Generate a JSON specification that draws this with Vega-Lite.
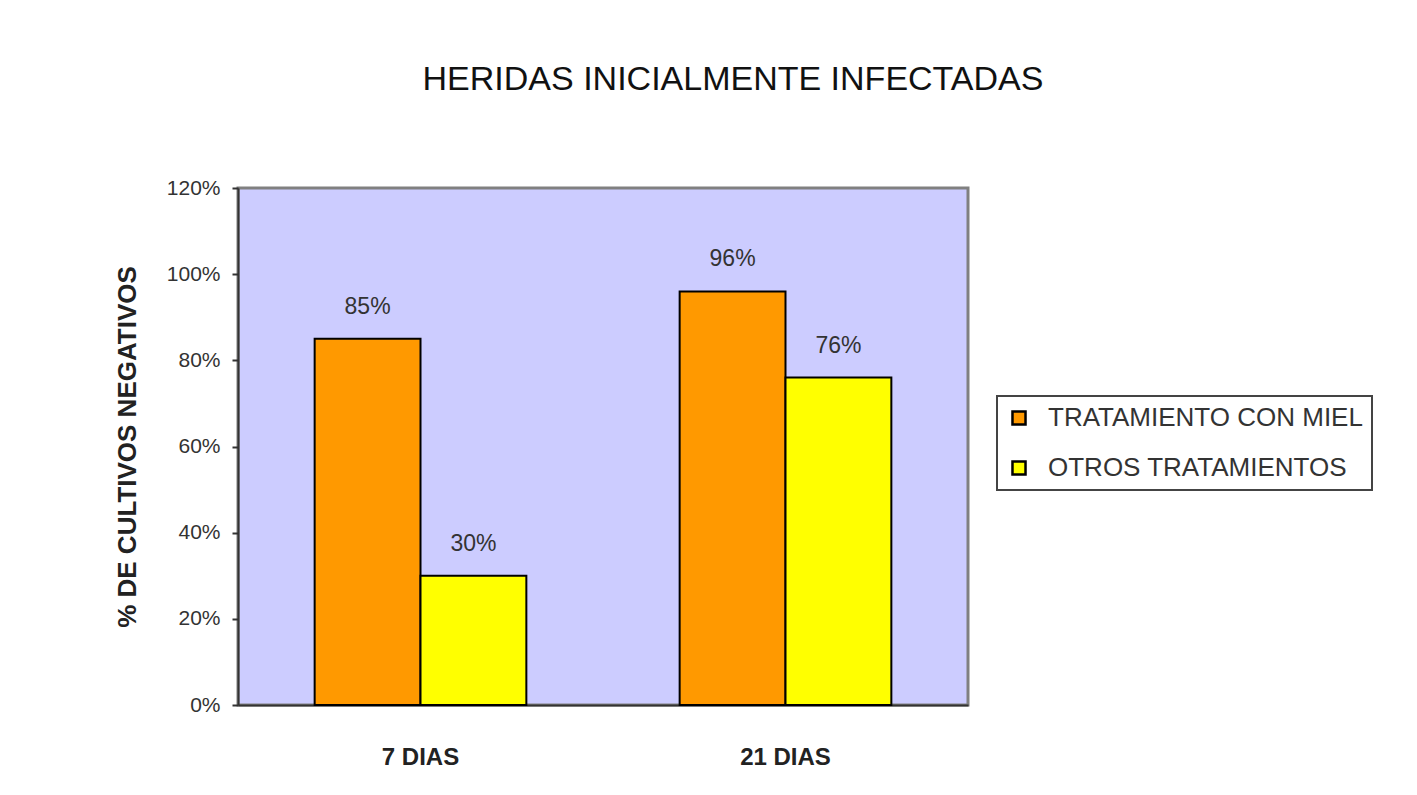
{
  "$schema": "https://vega.github.io/schema/vega-lite/v6.json",
  "width": 730,
  "height": 517,
  "autosize": {"type": "none"},
  "padding": {"left": 238, "top": 188, "right": 449, "bottom": 90},
  "background": "#ffffff",
  "title": {
    "text": "HERIDAS INICIALMENTE INFECTADAS",
    "fontSize": 34,
    "fontWeight": "normal",
    "color": "#111111",
    "font": "Liberation Sans",
    "anchor": "middle",
    "dx": 130,
    "offset": 80
  },
  "data": {
    "values": [
      {"dias": "7 DIAS", "tratamiento": "TRATAMIENTO CON MIEL", "valor": 0.85},
      {"dias": "7 DIAS", "tratamiento": "OTROS TRATAMIENTOS", "valor": 0.30},
      {"dias": "21 DIAS", "tratamiento": "TRATAMIENTO CON MIEL", "valor": 0.96},
      {"dias": "21 DIAS", "tratamiento": "OTROS TRATAMIENTOS", "valor": 0.76}
    ]
  },
  "encoding": {
    "x": {
      "field": "dias",
      "type": "nominal",
      "sort": ["7 DIAS", "21 DIAS"],
      "scale": {"paddingInner": 0.42, "paddingOuter": 0.21},
      "axis": {
        "title": null,
        "labelAngle": 0,
        "labelFontSize": 24,
        "labelFontWeight": "bold",
        "labelColor": "#222222",
        "labelPadding": 40,
        "ticks": false,
        "domainColor": "#333333",
        "domainWidth": 2
      }
    },
    "xOffset": {
      "field": "tratamiento",
      "type": "nominal",
      "sort": ["TRATAMIENTO CON MIEL", "OTROS TRATAMIENTOS"],
      "scale": {"paddingInner": 0, "paddingOuter": 0}
    },
    "y": {
      "field": "valor",
      "type": "quantitative",
      "scale": {"domain": [0, 1.2], "nice": false},
      "axis": {
        "title": "% DE CULTIVOS NEGATIVOS",
        "titleFontSize": 26,
        "titleFontWeight": "bold",
        "titleColor": "#222222",
        "titlePadding": 26,
        "format": ".0%",
        "values": [0, 0.2, 0.4, 0.6, 0.8, 1.0, 1.2],
        "labelFontSize": 21,
        "labelColor": "#333333",
        "labelPadding": 12,
        "tickSize": 6,
        "tickColor": "#333333",
        "tickWidth": 2,
        "domainColor": "#333333",
        "domainWidth": 2,
        "grid": false
      }
    }
  },
  "layer": [
    {
      "mark": {"type": "bar", "stroke": "#000000", "strokeWidth": 2},
      "encoding": {
        "color": {
          "field": "tratamiento",
          "type": "nominal",
          "sort": ["TRATAMIENTO CON MIEL", "OTROS TRATAMIENTOS"],
          "scale": {"range": ["#ff9900", "#ffff00"]},
          "legend": {
            "title": null,
            "orient": "none",
            "legendX": 759,
            "legendY": 208,
            "fillColor": "#ffffff",
            "strokeColor": "#444444",
            "padding": 9,
            "symbolType": "square",
            "symbolSize": 170,
            "symbolStrokeColor": "#000000",
            "symbolStrokeWidth": 2.5,
            "symbolOpacity": 1,
            "labelFontSize": 26,
            "labelColor": "#333333",
            "labelOffset": 16,
            "labelLimit": 500,
            "rowPadding": 24
          }
        }
      }
    },
    {
      "mark": {"type": "text", "baseline": "bottom", "dy": -20, "fontSize": 23, "color": "#333333"},
      "encoding": {
        "text": {"field": "valor", "type": "quantitative", "format": ".0%"}
      }
    }
  ],
  "config": {
    "font": "Liberation Sans",
    "legend": {"strokeWidth": 2},
    "view": {"fill": "#ccccff", "stroke": "#808080", "strokeWidth": 3}
  }
}
